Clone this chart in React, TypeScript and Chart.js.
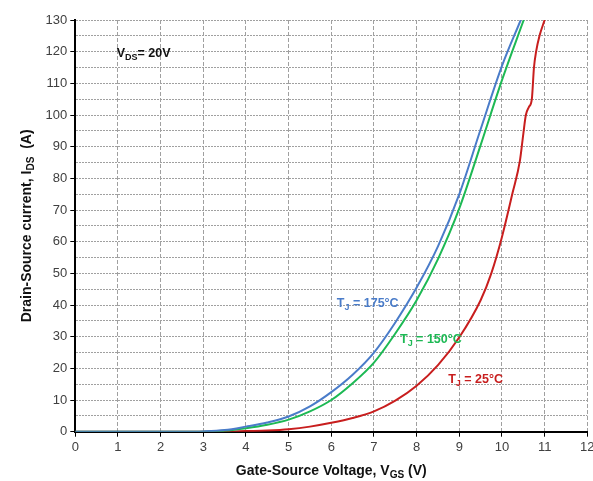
import React, { useEffect, useRef } from "react";
import { Chart, registerables } from "chart.js";

Chart.register(...registerables);

// ---- Data ----
const X_TICKS = [0, 1, 2, 3, 4, 5, 6, 7, 8, 9, 10, 11, 12];

const VGS_175 = [0, 2.5, 3, 3.5, 4, 4.5, 5, 5.5, 6, 6.5, 7, 7.5, 8, 8.5, 9, 9.5, 10, 10.44];
const IDS_175 = [0, 0, 0.1, 0.5, 1.6, 2.9, 4.8, 8, 12.5, 18, 25, 34.5, 45.5, 58.5, 75, 95.5, 115.5, 130];

const VGS_150 = [0, 3, 3.5, 4, 4.5, 5, 5.5, 6, 6.5, 7, 7.5, 8, 8.5, 9, 9.5, 10, 10.51];
const IDS_150 = [0, 0, 0.3, 1.1, 2.2, 3.8, 6.4, 10, 15.3, 21.8, 31, 41.5, 54.5, 70.5, 90.5, 111, 130];

const VGS_25 = [0, 3.5, 4, 4.5, 5, 5.5, 6, 6.5, 7, 7.5, 8, 8.5, 9, 9.5, 9.75, 10, 10.25, 10.42, 10.5, 10.56, 10.63, 10.7, 10.75, 10.8, 10.88, 11.0];
const IDS_25 = [0, 0, 0.2, 0.4, 0.8, 1.6, 2.8, 4.3, 6.4, 9.8, 14.5, 21, 29.8, 41.5, 50, 61.5, 75.5, 85.5, 94, 100, 102.5, 105, 115, 120, 125, 130];

const SERIES_NAMES = ["TJ = 175°C", "TJ = 150°C", "TJ = 25°C"];
const SERIES_COLORS = ["#4A7CC9", "#1DB954", "#C81E1E"];
const LABEL_TEMPS = ["175°C", "150°C", "25°C"];
const LABEL_V = [6.13, 7.61, 8.74];
const LABEL_I = [39.4, 27.9, 15.3];

const FONT = '"Liberation Sans", Arial, sans-serif';

type Part = [string, boolean];

function richWidth(ctx: CanvasRenderingContext2D, parts: Part[], size: number, bold: boolean) {
  let w = 0;
  for (const [t, sub] of parts) {
    const fs = sub ? size * 0.72 : size;
    ctx.font = `${bold ? "bold " : ""}${fs}px ${FONT}`;
    w += ctx.measureText(t).width;
  }
  return w;
}

function drawRich(ctx: CanvasRenderingContext2D, parts: Part[], x: number, y: number, size: number, color: string, bold = true) {
  let cx = x;
  ctx.fillStyle = color;
  ctx.textBaseline = "alphabetic";
  ctx.textAlign = "left";
  for (const [t, sub] of parts) {
    const fs = sub ? size * 0.72 : size;
    ctx.font = `${bold ? "bold " : ""}${fs}px ${FONT}`;
    ctx.fillText(t, cx, sub ? y + size * 0.22 : y);
    cx += ctx.measureText(t).width;
  }
}

const textPlugin = {
  id: "richText",
  afterDraw(chart: any) {
    const ctx: CanvasRenderingContext2D = chart.ctx;
    const xs = chart.scales.x;
    const ys = chart.scales.y;
    const area = chart.chartArea;
    ctx.save();
    // V_DS label
    drawRich(ctx, [["V", false], ["DS", true], ["= 20V", false]], xs.getPixelForValue(0.97), ys.getPixelForValue(118.2), 12.5, "#111");
    // curve labels
    for (let i = 0; i < LABEL_TEMPS.length; i++) {
      drawRich(
        ctx,
        [["T", false], ["J", true], [" = " + LABEL_TEMPS[i], false]],
        xs.getPixelForValue(LABEL_V[i]),
        ys.getPixelForValue(LABEL_I[i]),
        12.5,
        SERIES_COLORS[i]
      );
    }
    // x axis title
    const xParts: Part[] = [["Gate-Source Voltage, V", false], ["GS", true], [" (V)", false]];
    const xw = richWidth(ctx, xParts, 14, true);
    drawRich(ctx, xParts, (area.left + area.right) / 2 - xw / 2, 475, 14, "#111");
    // y axis title
    const yParts: Part[] = [["Drain-Source current, I", false], ["DS", true], ["  (A)", false]];
    const yw = richWidth(ctx, yParts, 14, true);
    ctx.translate(31, (area.top + area.bottom) / 2);
    ctx.rotate(-Math.PI / 2);
    drawRich(ctx, yParts, -yw / 2, 0, 14, "#111");
    ctx.restore();
  },
};

export default function App() {
  const ref = useRef<HTMLCanvasElement>(null);
  useEffect(() => {
    document.body.style.margin = "0";
    const mk = (v: number[], i: number[]) => v.map((x, k) => ({ x, y: i[k] }));
    const datasets = [mk(VGS_175, IDS_175), mk(VGS_150, IDS_150), mk(VGS_25, IDS_25)].map((d, k) => ({
      label: SERIES_NAMES[k],
      data: d,
      borderColor: SERIES_COLORS[k],
      backgroundColor: SERIES_COLORS[k],
      borderWidth: 2,
      pointRadius: 0,
      fill: false,
      cubicInterpolationMode: "monotone" as const,
      order: k,
    }));
    const chart = new Chart(ref.current!, {
      type: "line",
      data: { datasets },
      plugins: [textPlugin],
      options: {
        responsive: false,
        animation: false,
        events: [],
        layout: { padding: { left: 0, right: 5.7, top: 20, bottom: 0 } },
        plugins: { legend: { display: false }, tooltip: { enabled: false } },
        scales: {
          x: {
            type: "linear",
            min: 0,
            max: 12,
            afterBuildTicks: (s: any) => {
              s.ticks = X_TICKS.map((v) => ({ value: v }));
            },
            afterFit: (s: any) => {
              s.height = 49.3;
              s.paddingLeft = 0;
              s.paddingRight = 0;
            },
            ticks: { autoSkip: false, maxRotation: 0, color: "#404040", font: { family: FONT, size: 13 }, padding: 3 },
            grid: { color: "#a0a0a0", lineWidth: 1, tickLength: 5, tickColor: "#000", tickWidth: 1 },
            border: { color: "#000", width: 2, dash: [4, 2] },
          },
          y: {
            type: "linear",
            min: 0,
            max: 130,
            ticks: {
              stepSize: 5,
              autoSkip: false,
              color: "#404040",
              font: { family: FONT, size: 13 },
              padding: 3,
              callback: (v: any) => (Number(v) % 10 === 0 ? String(v) : ""),
            },
            afterFit: (s: any) => {
              s.width = 75.3;
              s.paddingTop = 0;
              s.paddingBottom = 0;
            },
            grid: {
              color: "#a0a0a0",
              lineWidth: 1,
              tickLength: 5,
              tickWidth: 1,
              tickColor: (c: any) => (c.tick && c.tick.value % 10 === 0 ? "#000" : "rgba(0,0,0,0)"),
            },
            border: { color: "#000", width: 2, dash: [2, 1] },
          },
        },
      },
    });
    return () => chart.destroy();
  }, []);
  return <canvas ref={ref} width={593} height={481} style={{ display: "block" }} />;
}
